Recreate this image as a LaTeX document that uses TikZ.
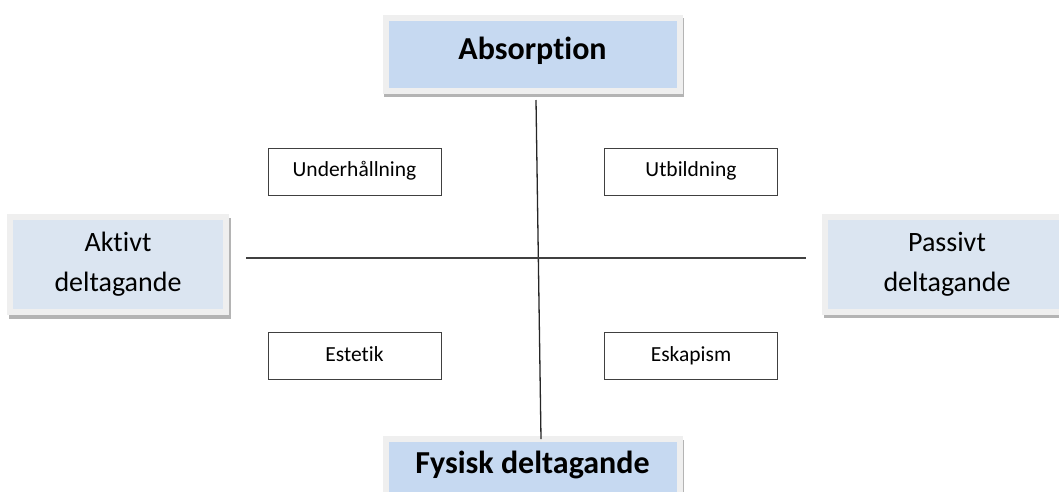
\documentclass[tikz,border=0pt]{standalone}
\usepackage{fontspec}
\setmainfont[Ligatures=NoCommon]{Carlito}
\usetikzlibrary{shadows}
\definecolor{headblue}{HTML}{C6D9F1}
\definecolor{sideblue}{HTML}{DBE5F1}
\definecolor{framegray}{HTML}{EFEFEF}
\definecolor{shadegray}{HTML}{B4B4B4}

\begin{document}
\begin{tikzpicture}[x=1pt,y=-1pt]
		\tikzstyle{every node}+=[inner sep=0pt]
		\tikzstyle{framed}=[draw=framegray, line width=6pt, drop shadow={shadow xshift=1.5pt, shadow yshift=-3.5pt, fill=shadegray, draw=shadegray, line width=6pt, opacity=1}]
		\tikzstyle{headbox}=[framed, fill=headblue, minimum width=294pt, minimum height=73pt, font=\fontsize{32}{38}\selectfont\bfseries]
		\tikzstyle{sidebox}=[framed, fill=sideblue, minimum height=95pt, align=center, font=\fontsize{28}{40}\selectfont]
		\tikzstyle{quadbox}=[draw=black!75, line width=1pt, minimum width=173pt, minimum height=47pt, text height=15pt, text depth=5pt, font=\fontsize{21.5}{26}\selectfont]
		\useasboundingbox (0,0) rectangle (1059,491);
		\clip (0,0) rectangle (1059,491);
		\node (absorption) [headbox, text height=20pt, text depth=10pt] at (532.5,54) {Absorption};
		\node (fysisk) [headbox, text height=10pt, text depth=15pt] at (532.5,475.5) {Fysisk deltagande};
		\node (aktivt) [sidebox, minimum width=216pt] at (118,264.5) {Aktivt\\deltagande};
		\node (passivt) [sidebox, minimum width=244pt] at (947,264) {Passivt\\deltagande};
		\node (underh) [quadbox] at (354.5,171.5) {Underhållning};
		\node (utbildning) [quadbox] at (691,171.5) {Utbildning};
		\node (estetik) [quadbox] at (354.5,356) {Estetik};
		\node (eskapism) [quadbox] at (691,356) {Eskapism};
		\coordinate (hleft) at (246,258);
		\coordinate (hright) at (806,258);
		\draw [black!85, line width=1.3pt] ([xshift=3.5pt,yshift=-6.5pt]absorption.south) -- ([xshift=8.5pt,yshift=-3pt]fysisk.north);
		\draw [black!75, line width=1.3pt] (hleft) -- (hright);
	\end{tikzpicture}
\end{document}
